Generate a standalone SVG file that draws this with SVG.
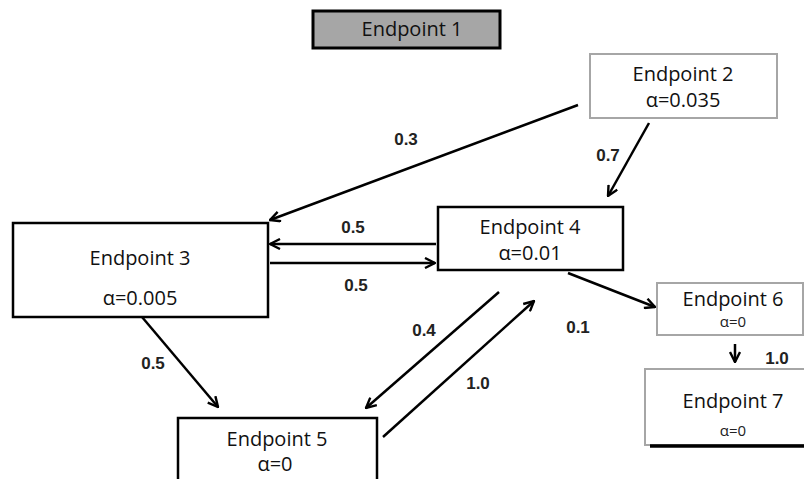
<svg xmlns="http://www.w3.org/2000/svg" width="804" height="479" viewBox="0 0 804 479">
<defs>
<marker id="ah" viewBox="0 0 12 12" refX="11" refY="6" markerWidth="12" markerHeight="12" markerUnits="userSpaceOnUse" orient="auto">
<path d="M1,1 L11,6 L1,11" fill="none" stroke="#000" stroke-width="2.4" stroke-linejoin="miter"/>
</marker>
<style>
.bb{fill:#fff;stroke:#000;stroke-width:2.5}
.gb{fill:#fff;stroke:#a6a6a6;stroke-width:2}
.t{font-family:"Open Sans","Noto Sans",sans-serif;font-size:20px;fill:#111;text-anchor:middle}
.s{font-family:"Open Sans","Noto Sans",sans-serif;font-size:15px;fill:#222;text-anchor:middle}
.l{font-family:"Liberation Sans",Arial,sans-serif;font-size:17px;font-weight:bold;fill:#222;text-anchor:middle}
.c{stroke:#000;stroke-width:2.5;fill:none;marker-end:url(#ah)}
</style>
</defs>
<g id="endpoint1">
<rect x="313" y="11" width="187" height="37" fill="#a6a6a6" stroke="#000" stroke-width="3"/>
<text class="t" x="412" y="36">Endpoint 1</text>
</g>
<g id="endpoint2">
<rect class="gb" x="590" y="54" width="187" height="64"/>
<text class="t" x="683" y="81">Endpoint 2</text>
<text class="t" x="683" y="107">α=0.035</text>
</g>
<g id="endpoint3">
<rect class="bb" x="13" y="223" width="255" height="94"/>
<text class="t" x="140" y="265">Endpoint 3</text>
<text class="t" x="140" y="305">α=0.005</text>
</g>
<g id="endpoint4">
<rect class="bb" x="438" y="207" width="185" height="63"/>
<text class="t" x="530" y="234">Endpoint 4</text>
<text class="t" x="530" y="260">α=0.01</text>
</g>
<g id="endpoint5">
<rect class="bb" x="178" y="418" width="199" height="70"/>
<text class="t" x="277" y="446">Endpoint 5</text>
<text class="t" x="275" y="471">α=0</text>
</g>
<g id="endpoint6">
<rect class="gb" x="657" y="283" width="146" height="52"/>
<text class="t" x="733" y="306">Endpoint 6</text>
<text class="s" x="733" y="327">α=0</text>
</g>
<g id="endpoint7">
<rect class="gb" x="645" y="369" width="165" height="76"/>
<line x1="650" y1="446" x2="804" y2="446" stroke="#000" stroke-width="3.5"/>
<text class="t" x="733" y="408">Endpoint 7</text>
<text class="s" x="733" y="436">α=0</text>
</g>
<g id="connectors">
<line class="c" x1="578" y1="105" x2="270" y2="220"/>
<line class="c" x1="649" y1="123" x2="608" y2="196"/>
<line class="c" x1="436" y1="244" x2="270" y2="244"/>
<line class="c" x1="270" y1="263" x2="435" y2="263"/>
<line class="c" x1="142" y1="317" x2="218" y2="407"/>
<line class="c" x1="499" y1="292" x2="366" y2="408"/>
<line class="c" x1="383" y1="437" x2="534" y2="301"/>
<line class="c" x1="568" y1="273" x2="655" y2="307"/>
<line class="c" x1="735" y1="344" x2="735" y2="362"/>
</g>
<g id="labels">
<text class="l" x="406" y="145">0.3</text>
<text class="l" x="608" y="161">0.7</text>
<text class="l" x="353" y="233">0.5</text>
<text class="l" x="356" y="291">0.5</text>
<text class="l" x="153" y="369">0.5</text>
<text class="l" x="424" y="336">0.4</text>
<text class="l" x="478" y="389">1.0</text>
<text class="l" x="578" y="333">0.1</text>
<text class="l" x="777" y="364">1.0</text>
</g>
</svg>
